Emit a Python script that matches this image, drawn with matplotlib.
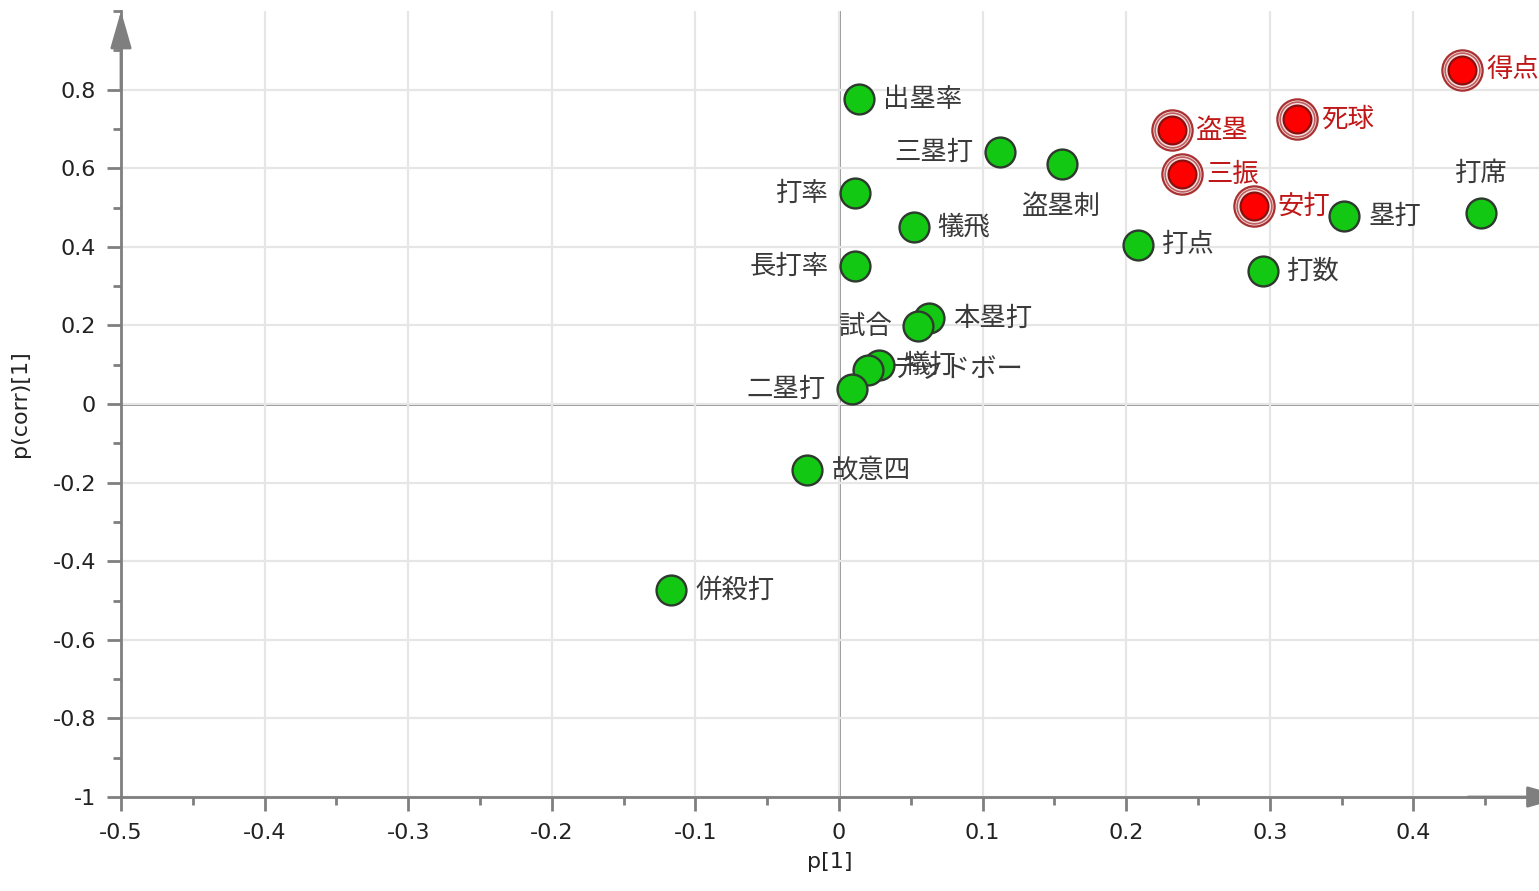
import matplotlib

matplotlib.use("Agg")

from matplotlib import pyplot as plt
from matplotlib.ticker import FuncFormatter, MultipleLocator

# loadings (p[1], p(corr)[1])
green_names = ["出塁率", "三塁打", "盗塁刺", "打率", "犠飛", "長打率", "本塁打", "試合",
               "犠打", "デッドボー", "二塁打", "故意四", "併殺打", "打点", "打数", "塁打", "打席"]
green_p = [0.014, 0.112, 0.155, 0.011, 0.052, 0.011, 0.063, 0.055,
           0.028, 0.020, 0.009, -0.022, -0.117, 0.208, 0.295, 0.352, 0.447]
green_pcorr = [0.776, 0.641, 0.611, 0.537, 0.450, 0.351, 0.219, 0.198,
               0.099, 0.087, 0.038, -0.168, -0.473, 0.405, 0.338, 0.478, 0.486]

red_names = ["盗塁", "三振", "死球", "安打", "得点"]
red_p = [0.232, 0.239, 0.319, 0.289, 0.434]
red_pcorr = [0.697, 0.585, 0.725, 0.504, 0.850]

x_ticks = [-0.5, -0.4, -0.3, -0.2, -0.1, 0, 0.1, 0.2, 0.3, 0.4]
y_ticks = [-1, -0.8, -0.6, -0.4, -0.2, 0, 0.2, 0.4, 0.6, 0.8]

# where each label sits relative to its point (layout only)
label_side = {"三塁打": "l", "打率": "l", "長打率": "l", "試合": "l", "二塁打": "l",
              "盗塁刺": "b", "打席": "t"}
side_offset = {"r": ((24, 0), "left"), "l": ((-26, 0), "right"),
               "b": ((0, -43), "center"), "t": ((0, 40), "center")}

CJK = ["Noto Sans CJK JP", "DejaVu Sans"]
AXIS_GRAY = "#7f7f7f"


def fmt(v, _pos=None):
    return "%g" % round(v, 2)


def put_label(ax, name, x, y, color):
    (dx, dy), ha = side_offset[label_side.get(name, "r")]
    ax.annotate(name, (x, y), xytext=(dx, dy), textcoords="offset pixels",
                ha=ha, va="center", fontsize=19, color=color, family=CJK, zorder=3)


fig = plt.figure(figsize=(15.39, 8.91), dpi=100)
ax = fig.add_axes([121 / 1539, 94 / 891, 1418 / 1539, 786 / 891])
ax.set_xlim(-0.5, 0.4875)
ax.set_ylim(-1, 1.0)

ax.set_xticks(x_ticks)
ax.set_yticks(y_ticks)
ax.xaxis.set_minor_locator(MultipleLocator(0.05))
ax.yaxis.set_minor_locator(MultipleLocator(0.1))
ax.xaxis.set_major_formatter(FuncFormatter(fmt))
ax.yaxis.set_major_formatter(FuncFormatter(fmt))
ax.tick_params(which="major", length=10, width=2, color=AXIS_GRAY, labelsize=16,
               labelcolor="#222222")
ax.tick_params(which="minor", length=6, width=2, color=AXIS_GRAY)
ax.tick_params(axis="x", pad=9)
ax.tick_params(axis="y", pad=8)

ax.grid(True, which="major", color="#e6e6e6", linewidth=1.6, zorder=0)
ax.axhline(0, color="#8c8c8c", linewidth=2, zorder=1)
ax.axvline(0, color="#8c8c8c", linewidth=2, zorder=1)

for side in ("top", "right"):
    ax.spines[side].set_visible(False)
for side in ("left", "bottom"):
    ax.spines[side].set_color(AXIS_GRAY)
    ax.spines[side].set_linewidth(2)

arrow = dict(arrowstyle="-|>,head_length=1.15,head_width=0.33", color=AXIS_GRAY,
             lw=2, shrinkA=0, shrinkB=0, mutation_scale=20)
ax.annotate("", xy=(0, 1.0), xytext=(0, 0.9), xycoords="axes fraction",
            textcoords="axes fraction", arrowprops=arrow, annotation_clip=False)
ax.annotate("", xy=(1.018, 0), xytext=(0.95, 0), xycoords="axes fraction",
            textcoords="axes fraction", arrowprops=arrow, annotation_clip=False)

ax.set_xlabel("p[1]", fontsize=16, color="#222222", labelpad=6)
ax.set_ylabel("p(corr)[1]", fontsize=16, color="#222222", labelpad=16)

ax.plot(green_p, green_pcorr, linestyle="none", marker="o", markersize=21.5,
        markerfacecolor="#12c812", markeredgecolor="#2f3a2f", markeredgewidth=1.7,
        zorder=5, clip_on=False)
for name, x, y in zip(green_names, green_p, green_pcorr):
    put_label(ax, name, x, y, "#3a3a3a")

# red points carry a double ring
ax.plot(red_p, red_pcorr, linestyle="none", marker="o", markersize=29,
        markerfacecolor="#f3dede", markeredgecolor="#a83232", markeredgewidth=1.6,
        zorder=6, clip_on=False)
ax.plot(red_p, red_pcorr, linestyle="none", marker="o", markersize=25,
        markerfacecolor="none", markeredgecolor="#c06060", markeredgewidth=1.2,
        zorder=6, clip_on=False)
ax.plot(red_p, red_pcorr, linestyle="none", marker="o", markersize=20,
        markerfacecolor="#ff0000", markeredgecolor="#8a1010", markeredgewidth=1.6,
        zorder=7, clip_on=False)
for name, x, y in zip(red_names, red_p, red_pcorr):
    put_label(ax, name, x, y, "#c01818")

fig.savefig("out.png", dpi=100)
